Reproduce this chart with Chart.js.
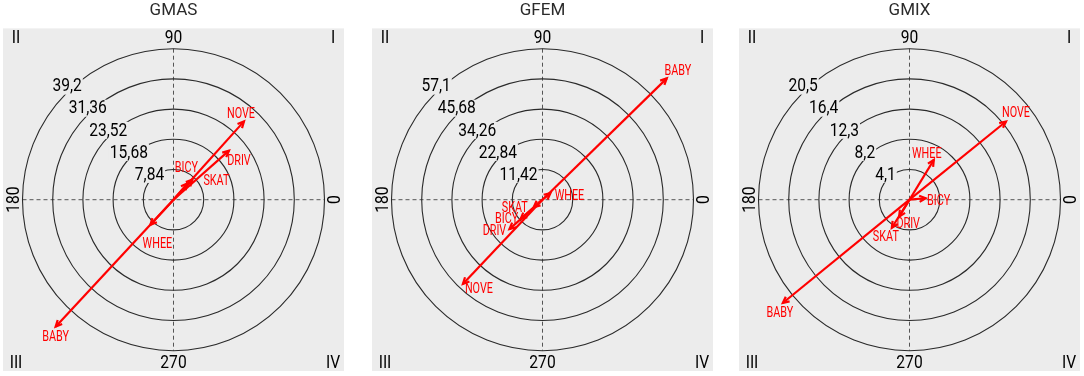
<!DOCTYPE html>
<html>
<head>
<meta charset="utf-8">
<script src="https://cdn.jsdelivr.net/npm/chart.js@4/dist/chart.umd.min.js"></script>
<style>
  html, body { margin: 0; padding: 0; background: #fff; }
  .panel { position: absolute; top: 0; }
</style>
</head>
<body>
<div class="panel" style="left:3px"><canvas id="gmas" width="341" height="371"></canvas></div>
<div class="panel" style="left:372px"><canvas id="gfem" width="341" height="371"></canvas></div>
<div class="panel" style="left:739px"><canvas id="gmix" width="341" height="371"></canvas></div>
<script>
// variables shown as arrows, same order in every panel
const CATEGORIES = ['NOVE', 'DRIV', 'BICY', 'SKAT', 'WHEE', 'BABY'];

// GMAS
const GMAS_RINGS = [7.84, 15.68, 23.52, 31.36, 39.2];
const GMAS_X = [18.3, 14.4, 3.6, 4.9, -6.0, -30.6];
const GMAS_Y = [20.3, 12.7, 4.2, 5.2, -6.5, -32.9];

// GFEM
const GFEM_RINGS = [11.42, 22.84, 34.26, 45.68, 57.1];
const GFEM_X = [-30.1, -12.5, -8.3, -3.3, 3.0, 47.0];
const GFEM_Y = [-31.8, -11.1, -7.3, -2.8, 2.5, 45.8];

// GMIX
const GMIX_RINGS = [4.1, 8.2, 12.3, 16.4, 20.5];
const GMIX_X = [13.1, -1.4, 2.2, -2.4, 3.3, -17.2];
const GMIX_Y = [10.6, -2.3, 0.2, -3.8, 5.4, -14.0];

// degree labels round the circle, quadrant names in the corners
const DEGREE_LABELS = ['0', '90', '180', '270'];
const QUADRANTS = ['I', 'II', 'III', 'IV'];

// label nudges in pixels (layout only)
const GMAS_NUDGE = [[-3, -7], [10, 11], [-1, -15], [24, 2], [7, 19], [0, 11]];
const GFEM_NUDGE = [[16, 5], [-15, 2], [-14, 0], [-19, 1], [19, 3], [11, -7]];
const GMIX_NUDGE = [[10, -8], [9, 8], [13, 3], [-6, 10], [-7, -6], [-3, 10]];

const FONT = "Roboto, 'Noto Sans', sans-serif";
const BG = '#ececec';
const RED = '#ff0000';
const RING_FILL = 151 / 170.5; // outer circle vs half the plot box
const AREA_RATIO = 342 / 341;

const fmt = v => String(v).replace('.', ',');

// Roboto squeezed sideways to get the narrow look of the original
function narrowText(ctx, t, x, y, sx, rot) {
    ctx.save();
    ctx.translate(x, y);
    if (rot) ctx.rotate(rot);
    ctx.scale(sx, 1);
    ctx.fillText(t, 0, 0);
    ctx.restore();
}

const polarDecor = {
    id: 'polarDecor',
    beforeDatasetsDraw(chart, args, opts) {
        const { ctx, chartArea: a, scales: { x, y } } = chart;
        const rings = opts.rings;
        const cx = x.getPixelForValue(0), cy = y.getPixelForValue(0);
        const rad = v => x.getPixelForValue(v) - cx;
        const outer = rad(rings[rings.length - 1]);

        ctx.save();
        ctx.fillStyle = BG;
        ctx.fillRect(a.left, a.top, a.width, a.height);

        // dashed axes
        ctx.strokeStyle = '#555';
        ctx.lineWidth = 1;
        ctx.setLineDash([4, 3]);
        ctx.beginPath();
        ctx.moveTo(cx - outer, cy); ctx.lineTo(cx + outer, cy);
        ctx.moveTo(cx, cy - outer); ctx.lineTo(cx, cy + outer);
        ctx.stroke();
        ctx.setLineDash([]);

        // circles
        ctx.strokeStyle = '#2a2a2a';
        ctx.lineWidth = 1.1;
        rings.forEach(v => {
            ctx.beginPath();
            ctx.arc(cx, cy, rad(v), 0, Math.PI * 2);
            ctx.stroke();
        });

        // ring values, sitting on the circles up-left
        ctx.font = `19px ${FONT}`;
        ctx.textAlign = 'center';
        ctx.textBaseline = 'middle';
        const ang = 133 * Math.PI / 180;
        const sx = 0.82;
        rings.forEach(v => {
            const r = rad(v) + 5;
            const lx = cx + r * Math.cos(ang), ly = cy - r * Math.sin(ang);
            const t = fmt(v);
            const w = ctx.measureText(t).width * sx;
            ctx.fillStyle = BG;
            ctx.fillRect(lx - w / 2 - 1, ly - 8, w + 2, 17);
            ctx.fillStyle = '#000';
            narrowText(ctx, t, lx, ly + 1, sx);
        });

        // degrees
        ctx.fillStyle = '#000';
        narrowText(ctx, DEGREE_LABELS[1], cx, a.top + 10, sx);
        narrowText(ctx, DEGREE_LABELS[3], cx, a.bottom - 8, sx);
        narrowText(ctx, DEGREE_LABELS[2], a.left + 11, cy, sx, -Math.PI / 2);
        narrowText(ctx, DEGREE_LABELS[0], a.right - 9, cy, sx, -Math.PI / 2);

        // quadrants
        narrowText(ctx, QUADRANTS[0], a.right - 11, a.top + 10, sx);
        narrowText(ctx, QUADRANTS[1], a.left + 13, a.top + 10, sx);
        narrowText(ctx, QUADRANTS[2], a.left + 13, a.bottom - 8, sx);
        narrowText(ctx, QUADRANTS[3], a.right - 11, a.bottom - 8, sx);
        ctx.restore();
    },
    afterDatasetsDraw(chart, args, opts) {
        const { ctx } = chart;
        ctx.save();
        ctx.strokeStyle = RED;
        ctx.fillStyle = RED;
        ctx.lineWidth = 2.2;
        ctx.font = `15px ${FONT}`;
        ctx.textAlign = 'center';
        ctx.textBaseline = 'middle';
        chart.data.datasets.forEach((ds, i) => {
            const pts = chart.getDatasetMeta(i).data;
            const p0 = pts[0], p1 = pts[1];
            const th = Math.atan2(p1.y - p0.y, p1.x - p0.x);
            const len = 7, spread = Math.PI / 7;
            ctx.beginPath();
            ctx.moveTo(p1.x - len * Math.cos(th - spread), p1.y - len * Math.sin(th - spread));
            ctx.lineTo(p1.x, p1.y);
            ctx.lineTo(p1.x - len * Math.cos(th + spread), p1.y - len * Math.sin(th + spread));
            ctx.stroke();
            const n = opts.nudge[i];
            narrowText(ctx, ds.label, p1.x + n[0], p1.y + n[1], 0.72);
        });
        ctx.restore();
    }
};

function makePanel(id, title, rings, xs, ys, nudge) {
    const ext = rings[rings.length - 1] / RING_FILL;
    return new Chart(document.getElementById(id), {
        type: 'scatter',
        data: {
            datasets: CATEGORIES.map((c, i) => ({
                label: c,
                data: [{ x: 0, y: 0 }, { x: xs[i], y: ys[i] }],
                showLine: true,
                borderColor: RED,
                borderWidth: 2.2,
                pointRadius: 0
            }))
        },
        options: {
            responsive: false,
            animation: false,
            devicePixelRatio: 1,
            layout: { padding: 0 },
            scales: {
                x: { display: false, min: -ext, max: ext },
                y: { display: false, min: -ext * AREA_RATIO, max: ext * AREA_RATIO }
            },
            plugins: {
                legend: { display: false },
                tooltip: { enabled: false },
                title: {
                    display: true,
                    text: title,
                    color: '#2b2b2b',
                    font: { family: FONT, size: 17, weight: 'normal' },
                    padding: { top: 1, bottom: 7 }
                },
                polarDecor: { rings, nudge }
            }
        },
        plugins: [polarDecor]
    });
}

makePanel('gmas', 'GMAS', GMAS_RINGS, GMAS_X, GMAS_Y, GMAS_NUDGE);
makePanel('gfem', 'GFEM', GFEM_RINGS, GFEM_X, GFEM_Y, GFEM_NUDGE);
makePanel('gmix', 'GMIX', GMIX_RINGS, GMIX_X, GMIX_Y, GMIX_NUDGE);
</script>
</body>
</html>
